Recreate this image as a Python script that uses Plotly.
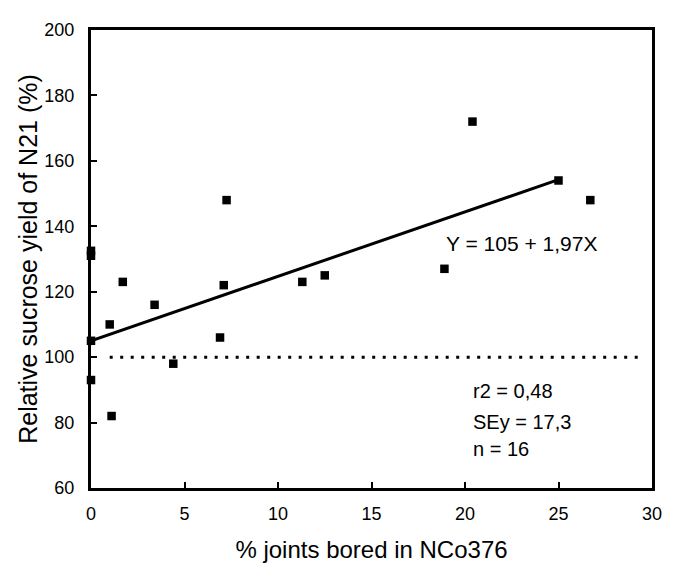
import plotly.graph_objects as go

# Data
bored_pct = [0, 0, 0, 0, 1.0, 1.1, 1.7, 3.4, 4.4, 6.9, 7.1, 7.25, 11.3, 12.5, 18.9, 20.4, 25.0, 26.7]
rel_yield = [131, 132.5, 105, 93, 110, 82, 123, 116, 98, 106, 122, 148, 123, 125, 127, 172, 154, 148]

intercept = 105
slope = 1.97
fit_x = [0, 25]
fit_y = [intercept + slope * x for x in fit_x]

ref_x = [1, 29.5]
ref_y = [100, 100]

x_ticks = [0, 5, 10, 15, 20, 25, 30]
y_ticks = [60, 80, 100, 120, 140, 160, 180, 200]

FONT = "Arial, Liberation Sans, sans-serif"

fig = go.Figure()
fig.add_trace(go.Scatter(x=ref_x, y=ref_y, mode="lines",
                         line=dict(color="black", width=3, dash="3px,7.5px"),
                         showlegend=False, hoverinfo="skip"))
fig.add_trace(go.Scatter(x=fit_x, y=fit_y, mode="lines",
                         line=dict(color="black", width=3),
                         showlegend=False, cliponaxis=False))
fig.add_trace(go.Scatter(x=bored_pct, y=rel_yield, mode="markers",
                         marker=dict(symbol="square", size=8.5, color="black"),
                         showlegend=False, cliponaxis=False))

fig.add_annotation(x=18.9, y=134.6, text="Y = 105 + 1,97X", showarrow=False,
                   xanchor="left", yanchor="middle", font=dict(size=21, color="black", family=FONT))
stats = ["r2 = 0,48", "SEy = 17,3", "n = 16"]
stat_y = [89.5, 80.3, 71.8]
for t, yv in zip(stats, stat_y):
    fig.add_annotation(x=20.3, y=yv, text=t, showarrow=False, xanchor="left", yanchor="middle",
                       font=dict(size=20, color="black", family=FONT))

fig.update_xaxes(range=[0, 30], tickvals=x_ticks, ticks="inside", ticklen=6, tickwidth=2,
                 tickcolor="black", showline=True, linewidth=3, linecolor="black", mirror=True,
                 showgrid=False, zeroline=False, ticklabelstandoff=7,
                 tickfont=dict(size=18, color="black", family=FONT),
                 title=dict(text="% joints bored in NCo376", font=dict(size=24, color="black", family=FONT),
                            standoff=19))
fig.update_yaxes(range=[60, 200], tickvals=y_ticks, ticks="inside", ticklen=6, tickwidth=2,
                 tickcolor="black", showline=True, linewidth=3, linecolor="black", mirror=True,
                 showgrid=False, zeroline=False, ticklabelstandoff=10,
                 tickfont=dict(size=18, color="black", family=FONT),
                 title=dict(text="Relative sucrose yield of N21 (%)", font=dict(size=25, color="black", family=FONT),
                            standoff=0))

# page body has an 8px margin, so the figure is shifted by 8px; compensate
fig.update_layout(width=666, height=563, margin=dict(l=83, r=12, t=15, b=73),
                  plot_bgcolor="white", paper_bgcolor="white")

fig.write_html("out.html")
